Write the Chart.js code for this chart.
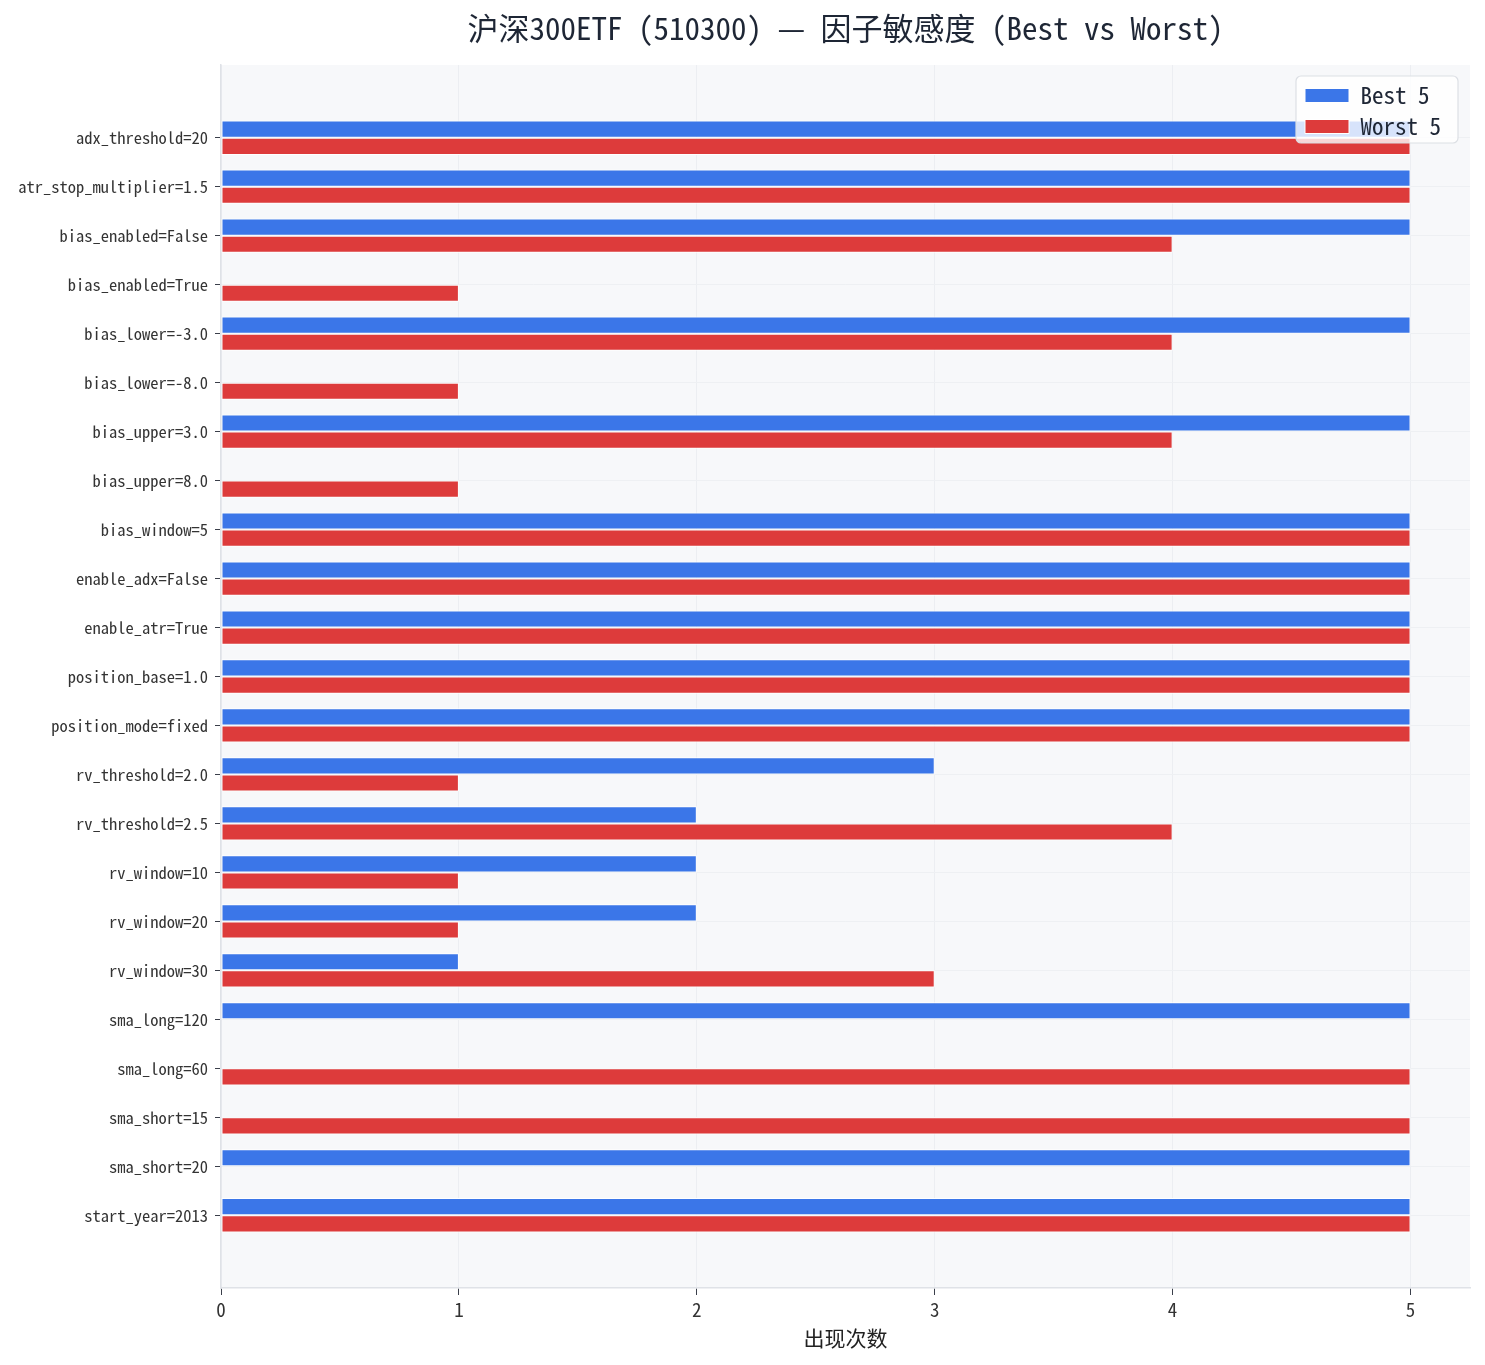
<!DOCTYPE html>
<html lang="zh">
<head>
    <meta charset="UTF-8">
    <title>沪深300ETF 因子敏感度</title>
    <script src="https://cdn.jsdelivr.net/npm/chart.js"></script>
    <style>
        body { margin: 0; background: #fff; }
        .chart-wrap { width: 1485px; height: 1365px; position: relative; }
    </style>
</head>
<body>
    <div class="chart-wrap"><canvas id="factorChart"></canvas></div>

    <script>
        // factor values, top to bottom
        const factors = [
            'adx_threshold=20', 'atr_stop_multiplier=1.5', 'bias_enabled=False', 'bias_enabled=True',
            'bias_lower=-3.0', 'bias_lower=-8.0', 'bias_upper=3.0', 'bias_upper=8.0',
            'bias_window=5', 'enable_adx=False', 'enable_atr=True', 'position_base=1.0',
            'position_mode=fixed', 'rv_threshold=2.0', 'rv_threshold=2.5', 'rv_window=10',
            'rv_window=20', 'rv_window=30', 'sma_long=120', 'sma_long=60',
            'sma_short=15', 'sma_short=20', 'start_year=2013'
        ];
        const best5 = [5, 5, 5, 0, 5, 0, 5, 0, 5, 5, 5, 5, 5, 3, 2, 2, 2, 1, 5, 0, 0, 5, 5];
        const worst5 = [5, 5, 4, 1, 4, 1, 4, 1, 5, 5, 5, 5, 5, 1, 4, 1, 1, 3, 0, 5, 5, 0, 5];
        const xTicks = [0, 1, 2, 3, 4, 5];

        const monoFont = '"Noto Sans Mono CJK SC", "DejaVu Sans Mono", "Noto Sans CJK SC", monospace';

        const toPoints = (arr) => arr.map((v, i) => ({ x: v, y: i }));

        const legendBoxW = 162;
        const legendBoxH = 67;

        // plot background + legend frame drawn over the bars
        const plotDecor = {
            id: 'plotDecor',
            beforeDraw(chart) {
                const { ctx, chartArea: a } = chart;
                ctx.save();
                ctx.fillStyle = '#f7f8fa';
                ctx.fillRect(a.left, a.top, a.right - a.left, a.bottom - a.top);
                ctx.restore();
            },
            afterLayout(chart) {
                const lg = chart.legend, a = chart.chartArea;
                lg.left = a.right - legendBoxW - 11;
                lg.top = a.top + 11;
                lg.right = lg.left + lg.width;
            },
            afterDatasetsDraw(chart) {
                const { ctx } = chart;
                const lg = chart.legend;
                ctx.save();
                ctx.beginPath();
                ctx.roundRect(lg.left - 1, lg.top, legendBoxW, legendBoxH, 5);
                ctx.fillStyle = 'rgba(255,255,255,0.8)';
                ctx.fill();
                ctx.strokeStyle = '#dcdfe4';
                ctx.lineWidth = 1.2;
                ctx.stroke();
                ctx.restore();
                lg.draw();
            }
        };

        const ctx = document.getElementById('factorChart');
        const chart = new Chart(ctx, {
            type: 'bar',
            data: {
                datasets: [
                    {
                        label: 'Best 5',
                        data: toPoints(best5),
                        backgroundColor: '#3b76e8',
                        borderColor: '#ffffff',
                        borderWidth: 1,
                        borderSkipped: false
                    },
                    {
                        label: 'Worst 5',
                        data: toPoints(worst5),
                        backgroundColor: '#dd3b3b',
                        borderColor: '#ffffff',
                        borderWidth: 1,
                        borderSkipped: false
                    }
                ]
            },
            options: {
                indexAxis: 'y',
                responsive: true,
                maintainAspectRatio: false,
                animation: false,
                layout: { padding: { left: 0, right: 15, top: 0, bottom: 14 } },
                datasets: { bar: { categoryPercentage: 0.7, barPercentage: 1.0 } },
                plugins: {
                    title: {
                        display: true,
                        fullSize: false,
                        text: '沪深300ETF (510300) — 因子敏感度 (Best vs Worst)',
                        color: '#1e2635',
                        font: { family: monoFont, size: 31, weight: 'normal', lineHeight: 1.2 },
                        padding: { top: 10, bottom: 17.8 }
                    },
                    legend: {
                        position: 'chartArea',
                        align: 'start',
                        labels: {
                            color: '#1e2635',
                            font: { family: monoFont, size: 23, lineHeight: 0.96 },
                            boxWidth: 44,
                            boxHeight: 14,
                            padding: 8
                        }
                    },
                    tooltip: { enabled: false }
                },
                scales: {
                    x: {
                        type: 'linear',
                        min: 0,
                        max: 5.25,
                        afterBuildTicks: (axis) => { axis.ticks = xTicks.map(v => ({ value: v })); },
                        afterFit: (axis) => { axis.height = 63; },
                        ticks: {
                            color: '#333',
                            font: { family: monoFont, size: 19 },
                            padding: 3
                        },
                        grid: {
                            color: '#eceef2',
                            tickColor: '#3a3f4a',
                            tickLength: 7
                        },
                        border: { color: '#dfe2e7', width: 1.5 },
                        title: {
                            display: true,
                            text: '出现次数',
                            color: '#222',
                            font: { family: monoFont, size: 21 },
                            padding: { top: 2, bottom: 0 }
                        }
                    },
                    y: {
                        type: 'linear',
                        reverse: true,
                        offset: false,
                        min: -1.485,
                        max: factors.length - 1 + 1.485,
                        afterBuildTicks: (axis) => { axis.ticks = factors.map((f, i) => ({ value: i })); },
                        afterFit: (axis) => { axis.width = 221; },
                        ticks: {
                            color: '#333',
                            font: { family: monoFont, size: 16.5 },
                            padding: 7,
                            autoSkip: false,
                            callback: (v) => factors[v]
                        },
                        grid: {
                            offset: false,
                            color: '#eef0f3',
                            tickColor: '#3a3f4a',
                            tickLength: 6
                        },
                        border: { color: '#dfe2e7', width: 1.5 }
                    }
                }
            },
            plugins: [plotDecor]
        });
    </script>
</body>
</html>
